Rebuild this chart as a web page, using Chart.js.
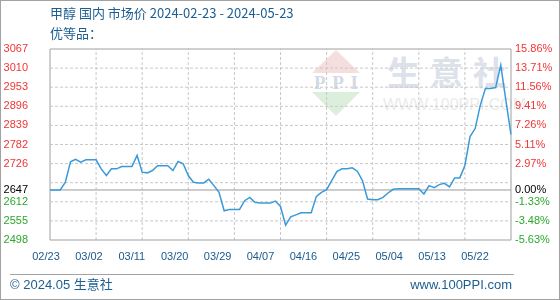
<!DOCTYPE html>
<html>
<head>
<meta charset="utf-8">
<script src="https://cdn.jsdelivr.net/npm/chart.js@4.4.1/dist/chart.umd.min.js"></script>
<style>
  body { margin: 0; background: #fff; }
  #wrap { position: relative; width: 560px; height: 300px; overflow: hidden; background: #fff; }
  #wrap > * { position: absolute; }
  #chart { left: 0; top: 0; }
  #frame { left: 0; top: 0; width: 560px; height: 300px; box-sizing: border-box; border: 1px solid #a3a3a3; pointer-events: none; }
  .txt { font-family: "Noto Sans CJK SC", "Noto Sans", sans-serif; color: #1d5e91; white-space: nowrap; }
  #title { left: 50px; top: 3px; font-size: 13px; line-height: 20px; }
  #rule { left: 10px; top: 274px; width: 504px; height: 0; border-top: 1px solid #a3a3a3; }
  .foot { font-family: "Liberation Sans", Arial, "Noto Sans CJK SC", sans-serif; font-size: 13px; line-height: 19px; top: 275px; }
  #copy { left: 10px; }
  #site { right: 48px; }
  /* watermark */
  #wmName { left: 387px; top: 51px; font: bold 33px/40px "Noto Sans CJK SC", sans-serif; letter-spacing: 10px; color: #dce1ea; }
  #wmSite { left: 383px; top: 96px; width: 120px; text-align: center; font: 16px/18px "Liberation Sans", sans-serif; color: #ebebeb; }
  #wmLogo { left: 312px; top: 50px; }
</style>
</head>
<body>
<div id="wrap">
  <svg id="wmLogo" width="48" height="66" viewBox="0 0 48 66">
    <polygon points="0,23 24,0 48,23" fill="#f7dede"/>
    <polygon points="0,42 48,42 24,66" fill="#dcefdc"/>
    <text x="24" y="39" text-anchor="middle" font-family="Liberation Serif, serif" font-weight="bold" font-size="19" textLength="44" fill="#d3dae6">PPI</text>
  </svg>
  <div id="wmName">生意社</div>
  <div id="wmSite">WWW.100PPI.COM</div>
  <canvas id="chart" width="560" height="300"></canvas>
  <div id="title" class="txt">甲醇 国内 市场价 2024-02-23 - 2024-05-23<br>优等品：</div>
  <div id="rule"></div>
  <div id="copy" class="txt foot">© 2024.05 生意社</div>
  <div id="site" class="txt foot">www.100PPI.com</div>
  <div id="frame"></div>
</div>
<script>
// daily price, 2024-02-23 .. 2024-05-23
const prices = [
  2647, 2647, 2647, 2670, 2731, 2738, 2730, 2737, 2737, 2737,
  2710, 2690, 2710, 2710, 2717, 2717, 2717, 2750, 2700, 2698,
  2705, 2719, 2719, 2719, 2705, 2732, 2725, 2690, 2670, 2668,
  2668, 2679, 2660, 2640, 2585, 2589, 2589, 2589, 2615, 2625,
  2610, 2608, 2608, 2608, 2614, 2598, 2542, 2567, 2573, 2579,
  2579, 2579, 2628, 2640, 2648, 2675, 2702, 2710, 2710, 2713,
  2703, 2675, 2620, 2618, 2618, 2625, 2638, 2649, 2651, 2651,
  2651, 2651, 2651, 2635, 2660, 2654, 2663, 2667, 2656, 2683,
  2683, 2720, 2806, 2830, 2899, 2949, 2949, 2952, 3019, 2914,
  2812
];

const xLabels = ["02/23", "03/02", "03/11", "03/20", "03/29", "04/07", "04/16", "04/25", "05/04", "05/13", "05/22"];

const basePrice = 2647;
const yTicks = [2498, 2554.9, 2611.8, 2647, 2668.7, 2725.6, 2782.5, 2839.4, 2896.3, 2953.2, 3010.1, 3067];
const leftLabels = ["2498", "2555", "2612", "2647", "", "2726", "2782", "2839", "2896", "2953", "3010", "3067"];
const rightLabels = ["-5.63%", "-3.48%", "-1.33%", "0.00%", "", "2.97%", "5.11%", "7.26%", "9.41%", "11.56%", "13.71%", "15.86%"];

// one category per day
const days = [];
const start = new Date(2024, 1, 23);
for (let i = 0; i < prices.length; i++) {
  const d = new Date(start.getFullYear(), start.getMonth(), start.getDate() + i);
  days.push(String(d.getMonth() + 1).padStart(2, "0") + "/" + String(d.getDate()).padStart(2, "0"));
}

const yMin = yTicks[0], yMax = yTicks[yTicks.length - 1];
const firstDay = days[0], lastDay = days[days.length - 1];

// grid and plot frame as thin line sets on the same scales
const gridSets = [];
yTicks.forEach(v => {
  const edge = v === yMin || v === yMax;
  const base = v === basePrice;
  gridSets.push({
    data: [{ x: firstDay, y: v }, { x: lastDay, y: v }],
    borderColor: edge ? "#a0a0a0" : base ? "#9a9a9a" : "#c8c8c8",
    borderDash: edge || base ? [] : [3, 2],
    borderWidth: 1,
    pointRadius: 0,
    clip: false
  });
});
for (let i = 0; i < days.length; i += 9) {
  const edge = i === 0 || i === days.length - 1;
  gridSets.push({
    data: [{ x: days[i], y: yMin }, { x: days[i], y: yMax }],
    borderColor: edge ? "#a0a0a0" : "#c8c8c8",
    borderDash: edge ? [] : [3, 2],
    borderWidth: 1,
    pointRadius: 0,
    clip: false
  });
}

Chart.defaults.font.family = "'Liberation Sans', Arial, sans-serif";

function tickColor(ctx) {
  const v = ctx.tick ? ctx.tick.value : 0;
  if (v > basePrice + 1) return "#f03535";
  if (v < basePrice - 1) return "#2ca82c";
  return "#000";
}

new Chart(document.getElementById("chart").getContext("2d"), {
  type: "line",
  data: {
    labels: days,
    datasets: [{
      data: prices,
      borderColor: "#3a9ad9",
      borderWidth: 1.5,
      pointRadius: 0
    }].concat(gridSets)
  },
  options: {
    responsive: false,
    animation: false,
    layout: { padding: { top: 49, left: 0, right: 0, bottom: 0 } },
    plugins: { legend: { display: false }, tooltip: { enabled: false } },
    scales: {
      x: {
        type: "category",
        offset: false,
        ticks: { display: false, autoSkip: false },
        grid: { display: false, drawTicks: false },
        border: { display: false },
        afterFit: s => { s.height = 0; }
      },
      xl: {
        type: "linear",
        position: "bottom",
        min: 0.093,
        max: 10.839,
        afterBuildTicks: s => { s.ticks = xLabels.map((l, i) => ({ value: i })); },
        ticks: {
          autoSkip: false,
          maxRotation: 0,
          padding: 10,
          color: "#1b5a8c",
          font: { size: 11 },
          callback: v => xLabels[v]
        },
        grid: { display: false, drawTicks: false },
        border: { display: false },
        afterFit: s => { s.height = 60; }
      },
      y: {
        position: "left",
        min: yMin,
        max: yMax,
        afterBuildTicks: s => { s.ticks = yTicks.map(v => ({ value: v })); },
        ticks: {
          padding: 22,
          color: tickColor,
          font: { size: 11 },
          callback: (v, i) => leftLabels[i]
        },
        grid: { display: false, drawTicks: false },
        border: { display: false },
        afterFit: s => { s.width = 50; }
      },
      y2: {
        position: "right",
        min: yMin,
        max: yMax,
        afterBuildTicks: s => { s.ticks = yTicks.map(v => ({ value: v })); },
        ticks: {
          padding: 4,
          color: tickColor,
          font: { size: 11 },
          callback: (v, i) => rightLabels[i]
        },
        grid: { display: false, drawTicks: false },
        border: { display: false },
        afterFit: s => { s.width = 49; }
      }
    }
  }
});
</script>
</body>
</html>
